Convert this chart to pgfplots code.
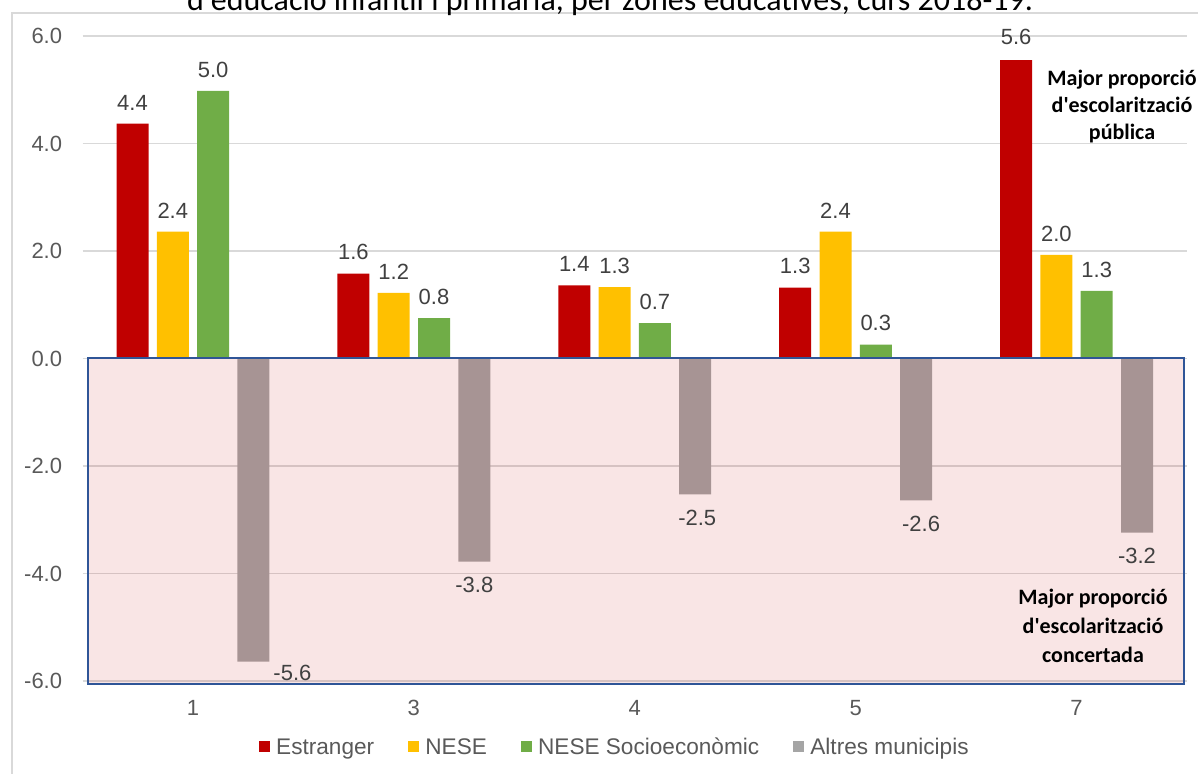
\documentclass[border=0pt]{standalone}
\usepackage{fontspec}
\setmainfont{Liberation Sans}
\newfontfamily\calibri{Carlito}
\usepackage{pgfplots}
\usepackage{pgfplotstable}
\pgfplotsset{compat=1.18}

\definecolor{barred}{HTML}{C00000}
\definecolor{baryellow}{HTML}{FFC000}
\definecolor{bargreen}{HTML}{70AD47}
\definecolor{bargray}{HTML}{A5A5A5}
\definecolor{gridgray}{HTML}{D9D9D9}
\definecolor{framegray}{HTML}{D9D9D9}
\definecolor{borderblue}{HTML}{2F5597}
\definecolor{tickgray}{HTML}{595959}
\definecolor{labgray}{HTML}{404040}

% x = zone index (0..4 -> zones 1,3,4,5,7), lab = printed label, dx/dy = label nudges (pt)
\pgfplotstableread{
x y lab dx dy
0 4.37 4.4 0 0
1 1.58 1.6 0 0
2 1.36 1.4 0 0
3 1.32 1.3 0 0
4 5.55 5.6 0 1
}\estranger
\pgfplotstableread{
x y lab dx dy
0 2.36 2.4 0 0
1 1.22 1.2 0 0
2 1.33 1.3 0 0
3 2.36 2.4 0 0
4 1.93 2.0 0 0
}\nese
\pgfplotstableread{
x y lab dx dy
0 4.98 5.0 0 0
1 0.75 0.8 0 0
2 0.66 0.7 0 0
3 0.26 0.3 0 0
4 1.26 1.3 0 0
}\socio
\pgfplotstableread{
x y lab dx dy
0 -5.64 -5.6 19.5 6
1 -3.78 -3.8 0 0
2 -2.53 -2.5 1 0
3 -2.64 -2.6 2.5 0
4 -3.24 -3.2 0 0
}\altres

\begin{document}
\begin{tikzpicture}
\useasboundingbox (0,0) rectangle (599pt,-387pt);
\clip (0,0) rectangle (599pt,-387pt);
\draw[framegray, line width=0.75pt] (6pt,-400pt) -- (6pt,-6.5pt) -- (610pt,-6.5pt);
\node[font=\calibri\fontsize{16}{19}\selectfont, anchor=base] at (305pt,-5.5pt)
  {d'educació infantil i primària, per zones educatives, curs 2018-19.};
\begin{axis}[
  at={(41.25pt,-340.5pt)}, anchor=south west,
  width=552.25pt, height=322.5pt, scale only axis,
  xmin=-0.5, xmax=4.5, ymin=-6, ymax=6,
  ybar=4.15pt, bar width=16pt,
  xtick={0,1,2,3,4}, xticklabels={1,3,4,5,7},
  ytick={-6,-4,-2,0,2,4,6},
  yticklabels={-6.0,-4.0,-2.0,0.0,2.0,4.0,6.0},
  ymajorgrids, major grid style={draw=gridgray, line width=0.75pt},
  axis line style={draw=none}, major tick length=0pt,
  tick label style={font=\fontsize{11}{13}\selectfont, text=tickgray},
  xticklabel style={anchor=north, inner sep=0pt, yshift=-9.5pt},
  yticklabel style={anchor=east, inner sep=0pt, xshift=-10pt},
  clip=false,
  nodes near coords, point meta=explicit symbolic,
  every node near coord/.append style={font=\fontsize{11}{13}\selectfont,
    text=labgray, inner sep=0pt},
  vdep/.style={visualization depends on={\thisrow{dx}\as\dx},
    visualization depends on={\thisrow{dy}\as\dy}},
  poslab/.style={vdep, every node near coord/.append style={anchor=south,
    xshift=\dx pt, yshift=6.5pt+\dy pt}},
  neglab/.style={vdep, every node near coord/.append style={anchor=north,
    xshift=\dx pt, yshift=-7.5pt+\dy pt}},
  sq legend/.style={legend image code/.code={
    \fill[##1] (0pt,-2pt) rectangle (5.6pt,3.6pt);}},
  legend columns=4, legend cell align=left,
  legend style={draw=none, fill=none, at={(0.4815,-0.1039)}, anchor=center,
    font=\fontsize{11.3}{13}\selectfont, text=tickgray,
    nodes={inner sep=0.5pt},
    /tikz/every odd column/.style={column sep=2.5pt},
    /tikz/every even column/.style={column sep=16.5pt}},
]
\addplot[fill=barred, draw=none, poslab, sq legend] table[x=x, y=y, meta=lab] {\estranger};
\addlegendentry{Estranger}
\addplot[fill=baryellow, draw=none, poslab, sq legend] table[x=x, y=y, meta=lab] {\nese};
\addlegendentry{NESE}
\addplot[fill=bargreen, draw=none, poslab, sq legend] table[x=x, y=y, meta=lab] {\socio};
\addlegendentry{NESE Socioeconòmic}
\addplot[fill=bargray, draw=none, neglab, sq legend] table[x=x, y=y, meta=lab] {\altres};
\addlegendentry{Altres municipis}
\filldraw[fill=barred, fill opacity=0.1, draw=borderblue, line width=1pt]
  (axis cs:-0.475,0) rectangle (axis cs:4.486,-6.05);
\end{axis}
\node[align=center, font=\calibri\bfseries\fontsize{11}{13.5}\selectfont]
  at (561pt,-53.5pt) {Major proporció\\d'escolarització\\pública};
\node[align=center, font=\calibri\bfseries\fontsize{11}{14.5}\selectfont]
  at (546.5pt,-313pt) {Major proporció\\d'escolarització\\concertada};
\end{tikzpicture}
\end{document}
